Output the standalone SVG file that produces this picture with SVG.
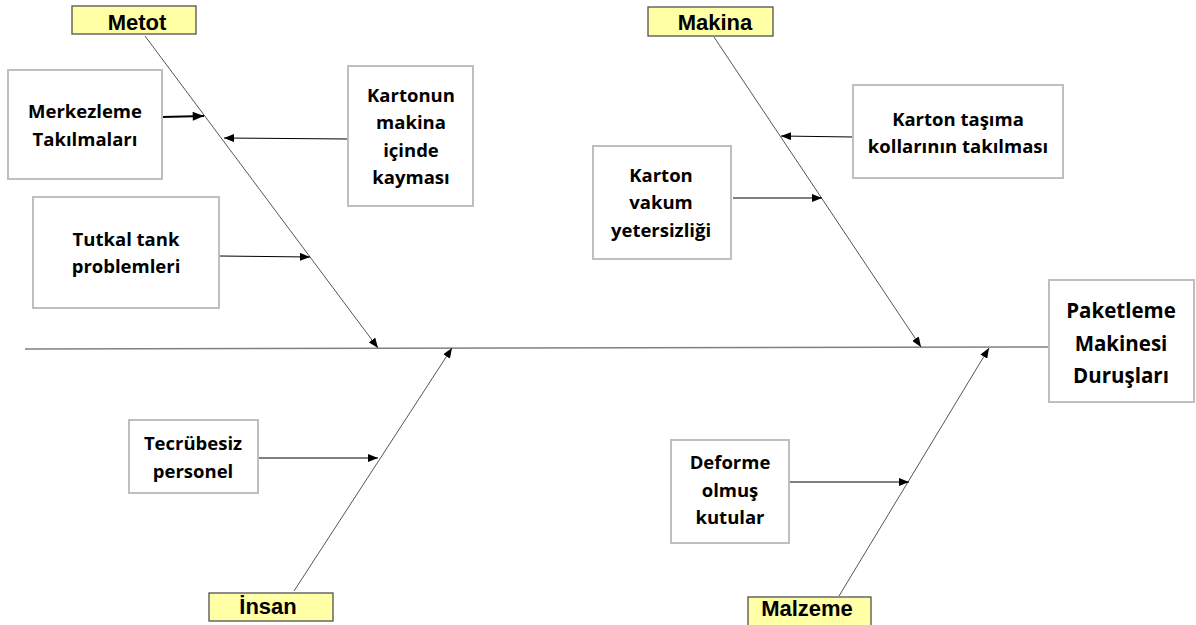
<svg xmlns="http://www.w3.org/2000/svg" width="1196" height="625" viewBox="0 0 1196 625">
<style>
.box{fill:#fff;stroke:#bfbfbf;stroke-width:2}
.cat{fill:#ffffa6;stroke:#505050;stroke-width:1.3}
.ct{font-family:"Liberation Sans",Arial,sans-serif;font-weight:bold;font-size:22px;fill:#000;text-anchor:middle}
.t{font-family:"Open Sans","Noto Sans",sans-serif;font-weight:bold;font-size:18.5px;fill:#000;text-anchor:middle}
.tb{font-family:"Open Sans","Noto Sans",sans-serif;font-weight:bold;font-size:20.5px;fill:#000;text-anchor:middle}
.bone{stroke:#555;stroke-width:1;fill:none}
.br{stroke:#000;stroke-width:1;fill:none}
.spine{stroke:#808080;stroke-width:1.6;fill:none}
</style>
<defs>
<marker id="ah" viewBox="0 0 10 8" refX="10" refY="4" markerWidth="10" markerHeight="8" markerUnits="userSpaceOnUse" orient="auto">
<path d="M0,0 L10,4 L0,8 z" fill="#000"/>
</marker>
<marker id="ah2" viewBox="0 0 10 8" refX="10" refY="4" markerWidth="12" markerHeight="9" markerUnits="userSpaceOnUse" orient="auto">
<path d="M0,0 L10,4 L0,8 z" fill="#000"/>
</marker>
</defs>
<g id="connectors">
<line class="spine" x1="25" y1="349" x2="1049" y2="347"/>
<line class="bone" x1="145" y1="36" x2="378" y2="348" marker-end="url(#ah)"/>
<line class="bone" x1="294" y1="591" x2="452" y2="348" marker-end="url(#ah)"/>
<line class="bone" x1="714" y1="37" x2="921" y2="347" marker-end="url(#ah)"/>
<line class="bone" x1="839" y1="596" x2="989" y2="348" marker-end="url(#ah)"/>
<line class="br" style="stroke-width:2" x1="162" y1="117" x2="204" y2="116" marker-end="url(#ah2)"/>
<line class="br" x1="348" y1="139" x2="224" y2="138" marker-end="url(#ah)"/>
<line class="br" x1="220" y1="256" x2="310" y2="257" marker-end="url(#ah)"/>
<line class="br" x1="853" y1="137" x2="781" y2="136" marker-end="url(#ah)"/>
<line class="br" x1="733" y1="198" x2="822" y2="198" marker-end="url(#ah)"/>
<line class="br" x1="258" y1="458" x2="378" y2="458" marker-end="url(#ah)"/>
<line class="br" x1="789" y1="482" x2="909" y2="482" marker-end="url(#ah)"/>
</g>
<g id="metot"><rect class="cat" x="72" y="6" width="124" height="28"/><text class="ct" x="137" y="30">Metot</text></g>
<g id="makina"><rect class="cat" x="648" y="7" width="125" height="29"/><text class="ct" x="715" y="30">Makina</text></g>
<g id="insan"><rect class="cat" x="209" y="593" width="124" height="28"/><text class="ct" x="268" y="614">İnsan</text></g>
<g id="malzeme"><rect class="cat" x="748" y="597" width="123" height="30"/><text class="ct" x="807" y="616">Malzeme</text></g>
<g id="merkezleme"><rect class="box" x="8" y="70" width="154" height="109"/><text class="t" x="85" y="118">Merkezleme</text><text class="t" x="85" y="146">Takılmaları</text></g>
<g id="kartonun"><rect class="box" x="348" y="66" width="125" height="140"/><text class="t" x="411" y="102">Kartonun</text><text class="t" x="411" y="129">makina</text><text class="t" x="411" y="157">içinde</text><text class="t" x="411" y="184">kayması</text></g>
<g id="tutkal"><rect class="box" x="33" y="197" width="186" height="111"/><text class="t" x="126" y="246">Tutkal tank</text><text class="t" x="126" y="273">problemleri</text></g>
<g id="karton-tasima"><rect class="box" x="853" y="85" width="210" height="93"/><text class="t" x="958" y="126">Karton taşıma</text><text class="t" x="958" y="153">kollarının takılması</text></g>
<g id="karton-vakum"><rect class="box" x="593" y="146" width="138" height="113"/><text class="t" x="661" y="182">Karton</text><text class="t" x="661" y="209">vakum</text><text class="t" x="661" y="237">yetersizliği</text></g>
<g id="tecrubesiz"><rect class="box" x="129" y="420" width="129" height="73"/><text class="t" x="193" y="450">Tecrübesiz</text><text class="t" x="193" y="478">personel</text></g>
<g id="deforme"><rect class="box" x="671" y="440" width="118" height="103"/><text class="t" x="730" y="469">Deforme</text><text class="t" x="730" y="497">olmuş</text><text class="t" x="730" y="524">kutular</text></g>
<g id="paketleme"><rect class="box" x="1049" y="280" width="145" height="122"/><text class="tb" x="1121" y="318">Paketleme</text><text class="tb" x="1121" y="351">Makinesi</text><text class="tb" x="1121" y="383">Duruşları</text></g>
</svg>
